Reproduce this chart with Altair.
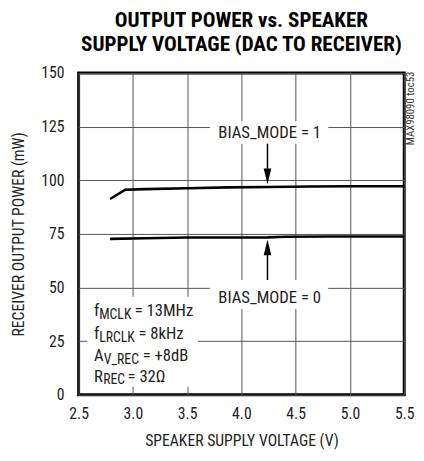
import altair as alt
import pandas as pd

# ---- data ----
v_bias1 = [2.79, 2.93, 3.11, 3.50, 3.88, 4.24, 4.64, 5.00, 5.50]
p_bias1 = [91.3, 95.6, 95.9, 96.3, 96.7, 96.9, 97.1, 97.2, 97.2]
v_bias0 = [2.79, 3.11, 3.50, 4.00, 4.24, 4.40, 4.80, 5.50]
p_bias0 = [72.7, 73.0, 73.3, 73.3, 73.4, 73.7, 73.8, 73.8]

x_ticks = [2.5, 3.0, 3.5, 4.0, 4.5, 5.0, 5.5]
y_ticks = [0, 25, 50, 75, 100, 125, 150]

W, H = 332, 328
FONT = "Roboto Condensed, Liberation Sans, sans-serif"
PX_X = W / 3.0      # pixels per volt
PX_Y = H / 150.0    # pixels per mW

curves = pd.DataFrame(
    {"V": v_bias1 + v_bias0,
     "P": p_bias1 + p_bias0,
     "s": ["BIAS_MODE = 1"] * len(v_bias1) + ["BIAS_MODE = 0"] * len(v_bias0)}
)

xs = alt.Scale(domain=[2.5, 5.5], nice=False, zero=False)
ys = alt.Scale(domain=[0, 150], nice=False, zero=False)
xaxis = alt.Axis(values=x_ticks, format=".1f", title="SPEAKER SUPPLY VOLTAGE (V)",
                 grid=True, ticks=False, domain=False, labelFlush=False,
                 labelPadding=11, titlePadding=12)
yaxis = alt.Axis(values=y_ticks, format="d", title="RECEIVER OUTPUT POWER (mW)",
                 grid=True, ticks=False, domain=False, labelFlush=False,
                 labelPadding=15, titlePadding=14)

def X(f="V"):
    return alt.X(f"{f}:Q", scale=xs, axis=xaxis)

def Y(f="P"):
    return alt.Y(f"{f}:Q", scale=ys, axis=yaxis)

# white boxes behind the labels
boxes = pd.DataFrame({
    "V": [3.71, 3.71, 2.58], "V2": [4.80, 4.80, 3.60],
    "P": [117.1, 40.0, 3.7], "P2": [127.5, 53.5, 45.7],
})
box_layer = alt.Chart(boxes).mark_rect(fill="white", strokeWidth=0).encode(
    x=X(), x2="V2:Q", y=Y(), y2="P2:Q")

line_layer = alt.Chart(curves).mark_line(strokeWidth=2.6, color="black").encode(
    x=X(), y=Y(), detail="s:N")

# arrows
shafts = pd.DataFrame({"V": [4.24, 4.24], "P": [117.1, 53.5], "P2": [102.0, 68.0]})
shaft_layer = alt.Chart(shafts).mark_rule(color="black", strokeWidth=1.5).encode(
    x=X(), y=Y(), y2="P2:Q")
heads = pd.DataFrame({"V": [4.24, 4.24], "P": [98.2, 72.4],
                      "shape": ["M-0.55,-2.3L0.55,-2.3L0,0Z", "M-0.55,2.3L0.55,2.3L0,0Z"]})
head_layer = alt.Chart(heads).mark_point(filled=True, color="black", size=196, opacity=1).encode(
    x=X(), y=Y(), shape=alt.Shape("shape:N", scale=None))

labels = pd.DataFrame({"V": [4.26, 4.26], "P": [122.0, 45.3],
                       "t": ["BIAS_MODE = 1", "BIAS_MODE = 0"]})
label_layer = alt.Chart(labels).mark_text(font=FONT, fontSize=17, color="#222",
                                          baseline="middle", align="center").encode(
    x=X(), y=Y(), text="t:N")

# conditions annotation with subscripts
ann_main = ["f", "f", "A", "R"]
ann_sub = ["MCLK", "LRCLK", "V_REC", "REC"]
ann_rest = [" = 13MHz", " = 8kHz", " = +8dB", " = 32Ω"]
ann_base = [36.6, 25.9, 15.6, 6.0]

# approximate Roboto advance widths (em)
widths = {"f": .347, "M": .863, "C": .636, "L": .526, "K": .615, "R": .616, "E": .556,
          "A": .652, "V": .637, "_": .441, " ": .248, "=": .537, "H": .696, "z": .484,
          "k": .495, "+": .554, "d": .549, "B": .623, "Ω": .68}
def tw(s, size, k=0.885):
    return sum(widths.get(c, .562) for c in s) * size * k

MAIN, SUB = 17, 14
x0 = 2.642
rows = []
for m, sb, r, b in zip(ann_main, ann_sub, ann_rest, ann_base):
    w1 = tw(m, MAIN, 0.9)
    w2 = tw(sb, SUB, 0.98)
    rows.append({"V": x0, "P": b, "t": m, "sz": MAIN})
    rows.append({"V": x0 + w1 / PX_X, "P": b - 2.5 / PX_Y, "t": sb, "sz": SUB})
    rows.append({"V": x0 + (w1 + w2) / PX_X, "P": b, "t": r, "sz": MAIN})
ann = pd.DataFrame(rows)
ann_layer = alt.Chart(ann).mark_text(font=FONT, color="#222", align="left",
                                     baseline="alphabetic").encode(
    x=X(), y=Y(), text="t:N", size=alt.Size("sz:Q", scale=None))

side = pd.DataFrame({"P": [133.5], "t": ["MAX98090 toc53"]})
side_layer = alt.Chart(side).mark_text(font=FONT, fontSize=11, color="#333", angle=270,
                                       align="center", baseline="middle").encode(
    x=alt.value(W + 7), y=Y(), text="t:N")

chart = alt.layer(box_layer, line_layer, shaft_layer, head_layer, label_layer,
                  ann_layer, side_layer).properties(
    width=W, height=H,
    autosize=alt.AutoSizeParams(type="none"),
    padding={"left": 72, "top": 62, "right": 12, "bottom": 55},
    title=alt.TitleParams(
        text=["OUTPUT POWER vs. SPEAKER", "SUPPLY VOLTAGE (DAC TO RECEIVER)"],
        font=FONT, fontSize=21.5, fontWeight="bold", color="#000",
        anchor="middle", lineHeight=24, offset=10),
).configure_view(stroke="black", strokeWidth=3).configure_axis(
    gridColor="#555", gridWidth=1, gridOpacity=1,
    labelFont=FONT, labelFontSize=16, labelColor="#222",
    titleFont=FONT, titleFontSize=16, titleColor="#222", titleFontWeight="normal",
)

chart.save("out.html", embed_options={"renderer": "svg", "actions": False})
